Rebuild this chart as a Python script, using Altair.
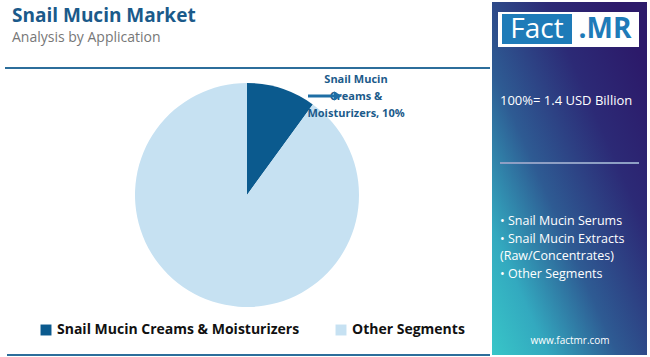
import altair as alt
import pandas as pd

# ---- data ----
categories = ["Snail Mucin Creams & Moisturizers", "Other Segments"]
shares = [10, 90]
slice_colors = ["#0b5a8e", "#c6e1f2"]
title_text = "Snail Mucin Market"
subtitle_text = "Analysis by Application"
total_text = "100%= 1.4 USD Billion"
bullet_lines = ["• Snail Mucin Serums", "• Snail Mucin Extracts", "(Raw/Concentrates)", "• Other Segments"]
label_lines = ["Snail Mucin", "Creams &", "Moisturizers, 10%"]

df = pd.DataFrame({"category": categories, "share": shares, "order": [0, 1]})
one = alt.Data(values=[{"a": 1}])
FONT = "Open Sans"
BLUE = "#1b5a8a"

pie = alt.Chart(df).mark_arc(radius=112, stroke=None).encode(
    theta=alt.Theta("share:Q", stack=True),
    order=alt.Order("order:Q"),
    color=alt.Color(
        "category:N",
        scale=alt.Scale(domain=categories, range=slice_colors),
        sort=categories,
        legend=alt.Legend(
            title=None, orient="none", legendX=39, legendY=323, direction="horizontal",
            symbolType="square", symbolSize=120, symbolStrokeWidth=0,
            labelFont=FONT, labelFontSize=14, labelFontWeight="bold", labelColor="#111111",
            columnPadding=34, labelLimit=400,
        ),
    ),
    x=alt.value(247), y=alt.value(195),
)

def text(t, x, y, size, color, weight="normal", align="left", font=FONT):
    return alt.Chart(one).mark_text(
        align=align, baseline="middle", fontSize=size, font=font, fontWeight=weight, color=color
    ).encode(x=alt.value(x), y=alt.value(y), text=alt.value(t))

def rule(x1, x2, y, color, w):
    return alt.Chart(one).mark_rule(color=color, strokeWidth=w).encode(
        x=alt.value(x1), x2=alt.value(x2), y=alt.value(y))

def rect(x1, x2, y1, y2, color):
    return alt.Chart(one).mark_rect(color=color).encode(
        x=alt.value(x1), x2=alt.value(x2), y=alt.value(y1), y2=alt.value(y2))

layers = []
# titles
layers.append(text(title_text, 12, 16, 19, BLUE, "bold"))
layers.append(text(subtitle_text, 12, 38, 14, "#777777"))
layers.append(rule(5, 490, 68, "#2c6e9b", 2))
layers.append(rule(7, 490, 355, "#2c6e9b", 2))

# right panel gradient
grad = alt.Gradient(
    gradient="linear",
    stops=[alt.GradientStop(color="#2c1a6a", offset=0),
           alt.GradientStop(color="#2c2a76", offset=0.25),
           alt.GradientStop(color="#2e5b93", offset=0.55),
           alt.GradientStop(color="#33a9bf", offset=0.8),
           alt.GradientStop(color="#38c6c8", offset=1)],
    x1=0.9, y1=0.1, x2=0, y2=1,
)
layers.append(alt.Chart(one).mark_rect(color=grad).encode(
    x=alt.value(492), x2=alt.value(647), y=alt.value(2), y2=alt.value(355)))
# logo
layers.append(rect(498, 639, 12, 47, "#ffffff"))
layers.append(rect(502, 572, 14, 44, "#1e7bb8"))
layers.append(text("Fact", 537, 30, 28, "#ffffff", "normal", "center"))
layers.append(text(".MR", 605, 30, 28, "#1e7bb8", "bold", "center"))
layers.append(text(total_text, 500, 101, 13, "#ffffff"))
layers.append(rule(500, 639, 163, "#8e9fc4", 2))
for line, yy in zip(bullet_lines, [221, 239, 256, 274]):
    layers.append(text(line, 500, yy, 12.5, "#ffffff"))
layers.append(text("www.factmr.com", 570, 341, 10, "#ffffff", "normal", "center"))

# slice label and arrow
layers.append(pie)
for line, yy in zip(label_lines, [80, 97, 114]):
    layers.append(text(line, 356, yy, 11, BLUE, "bold", "center"))
layers.append(rule(308, 334, 96, "#1e6ea5", 3))
layers.append(alt.Chart(one).mark_point(shape="triangle-right", filled=True, size=90, color="#1e6ea5", opacity=1).encode(
    x=alt.value(338), y=alt.value(96)))

chart = alt.layer(*layers).properties(
    width=650, height=357, padding=0, autosize=alt.AutoSizeParams(type="none"),
    background="#ffffff",
).configure_view(stroke=None)

chart.save("out.html", embed_options={"renderer": "svg", "actions": False})
